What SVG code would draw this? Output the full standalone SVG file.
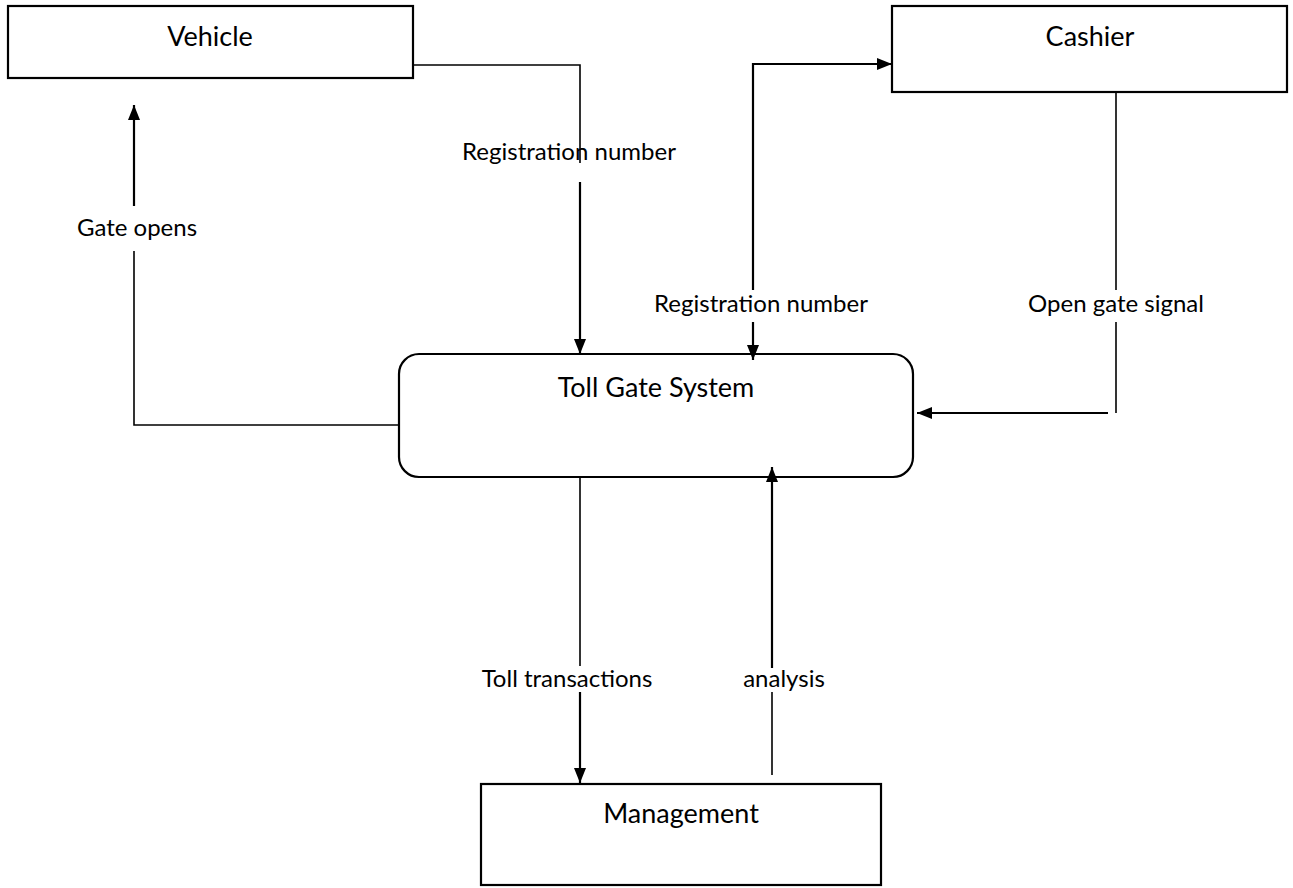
<svg xmlns="http://www.w3.org/2000/svg" width="1293" height="888" viewBox="0 0 1293 888">
  <style>
    .box { fill: #ffffff; stroke: #000000; stroke-width: 2.2; }
    .flow { fill: none; stroke: #000000; stroke-width: 1.6; }
    .flowa { fill: none; stroke: #000000; stroke-width: 2.2; }
    .name { font-family: Lato, "Liberation Sans", sans-serif; font-size: 27px; fill: #000000; text-anchor: middle; }
    .lbl { font-family: Lato, "Liberation Sans", sans-serif; font-size: 24px; fill: #000000; text-anchor: middle; }
  </style>
  <defs>
    <marker id="head" viewBox="0 0 15 12" refX="15" refY="6" markerWidth="15" markerHeight="12" markerUnits="userSpaceOnUse" orient="auto">
      <path d="M0,0 L15,6 L0,12 Z" fill="#000000"/>
    </marker>
  </defs>

  <rect width="1293" height="888" fill="#ffffff"/>

  <g id="vehicle">
    <rect class="box" x="8" y="6" width="405" height="72"/>
    <text class="name" x="210" y="46">Vehicle</text>
  </g>

  <g id="cashier">
    <rect class="box" x="892" y="6" width="395" height="86"/>
    <text class="name" x="1090" y="46">Cashier</text>
  </g>

  <g id="toll-gate-system">
    <rect class="box" x="399" y="354" width="514" height="123" rx="20" ry="20"/>
    <text class="name" x="656" y="397">Toll Gate System</text>
  </g>

  <g id="management">
    <rect class="box" x="481" y="784" width="400" height="101"/>
    <text class="name" x="681" y="823">Management</text>
  </g>

  <g id="connectors">
    <!-- Vehicle to Toll Gate System: registration number -->
    <polyline class="flow" points="414,65 580,65 580,163"/>
    <line class="flowa" x1="580" y1="182" x2="580" y2="354" marker-end="url(#head)"/>
    <text class="lbl" x="569" y="160">Registration number</text>

    <!-- Toll Gate System and Cashier: registration number -->
    <polyline class="flowa" points="753,290 753,64 892,64" marker-end="url(#head)"/>
    <line class="flowa" x1="753" y1="322" x2="753" y2="360" marker-end="url(#head)"/>
    <text class="lbl" x="761" y="312">Registration number</text>

    <!-- Cashier to Toll Gate System: open gate signal -->
    <line class="flow" x1="1116" y1="92" x2="1116" y2="290"/>
    <line class="flow" x1="1116" y1="322" x2="1116" y2="413"/>
    <line class="flowa" x1="1108" y1="413" x2="917" y2="413" marker-end="url(#head)"/>
    <text class="lbl" x="1116" y="312">Open gate signal</text>

    <!-- Toll Gate System to Vehicle: gate opens -->
    <polyline class="flow" points="399,425 134,425 134,251"/>
    <line class="flowa" x1="134" y1="206" x2="134" y2="105" marker-end="url(#head)"/>
    <text class="lbl" x="137" y="236">Gate opens</text>

    <!-- Toll Gate System to Management: toll transactions -->
    <line class="flow" x1="580" y1="477" x2="580" y2="666"/>
    <line class="flowa" x1="580" y1="692" x2="580" y2="783" marker-end="url(#head)"/>
    <text class="lbl" x="567" y="687">Toll transactions</text>

    <!-- Management to Toll Gate System: analysis -->
    <line class="flow" x1="772" y1="775" x2="772" y2="692"/>
    <line class="flowa" x1="772" y1="668" x2="772" y2="467" marker-end="url(#head)"/>
    <text class="lbl" x="784" y="687">analysis</text>
  </g>
</svg>
